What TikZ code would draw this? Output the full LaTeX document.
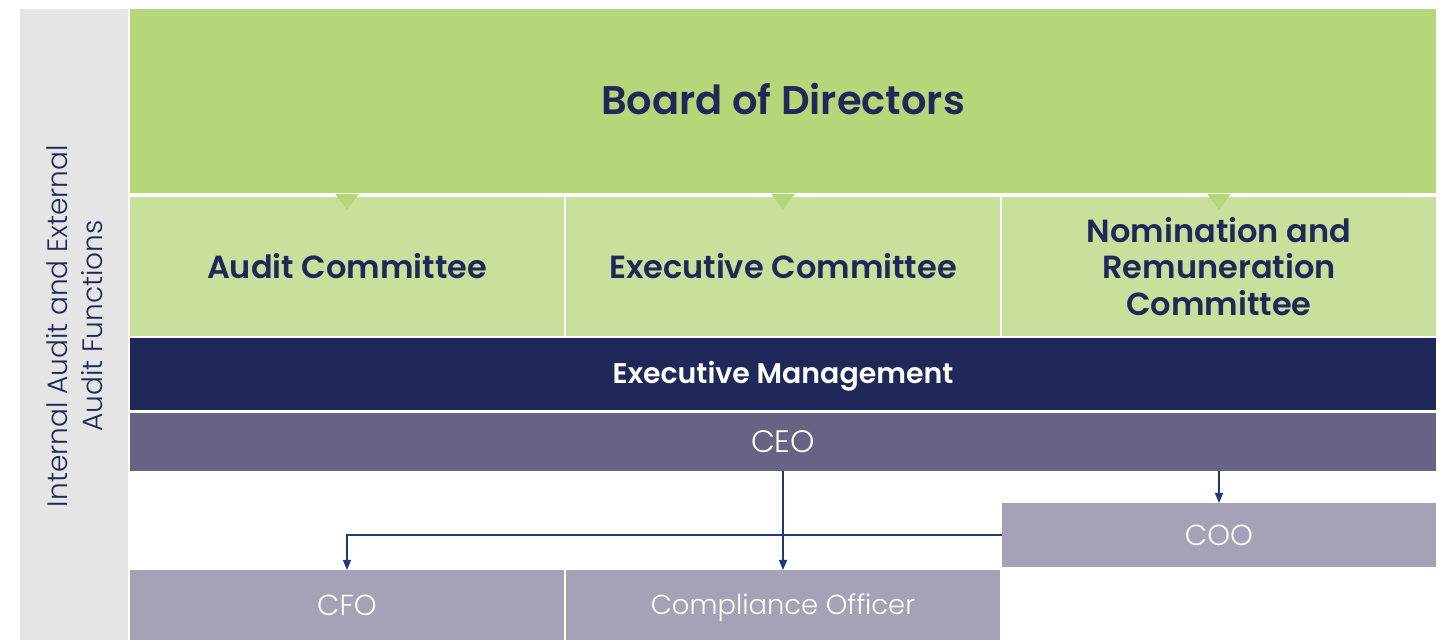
\documentclass[tikz,border=0pt]{standalone}
\usepackage{fontspec}
\setmainfont{Poppins}[BoldFont={* SemiBold}]
\newfontfamily\lightfont{Poppins Light}
\definecolor{boardgreen}{HTML}{B5D779}
\definecolor{commgreen}{HTML}{C9E09D}
\definecolor{navyblue}{HTML}{1F2858}
\definecolor{ceopurple}{HTML}{676384}
\definecolor{officerlilac}{HTML}{A5A2B7}
\definecolor{sidegrey}{HTML}{E5E5E5}
\definecolor{arrowblue}{HTML}{1F3A78}
\usetikzlibrary{arrows.meta,positioning,calc}

\begin{document}
\begin{tikzpicture}[x=0.5pt,y=-0.5pt,
    box/.style={inner sep=0pt, outer sep=0pt, minimum width=217pt},
    capsline/.style={text height=#1, text depth=0pt},
    committee/.style={box, align=center, fill=commgreen, text=navyblue, font=\fontsize{16}{18.3}\selectfont\bfseries, minimum height=69.5pt},
    officer/.style={box, capsline=10.2pt, fill=officerlilac, text=white, font=\lightfont\fontsize{14.5}{17}\selectfont, minimum height=35pt},
    report/.style={-{Triangle[length=5pt,width=4pt]}, arrowblue, line width=0.6pt}]
      \useasboundingbox (0,0) rectangle (1448,640);
      % Audit functions strip
      \node[box, fill=sidegrey, minimum width=54pt, minimum height=315.5pt] (audit-side) at (74,324.5) {};
      \node[rotate=90, align=center, text=navyblue, font=\lightfont\fontsize{14}{17.5}\selectfont] (audit-text) at (75,326) {Internal Audit and External\\Audit Functions};
      % Board
      \node[box, capsline=14pt, fill=boardgreen, text=navyblue, minimum width=653pt, minimum height=92pt, font=\fontsize{20}{24}\selectfont\bfseries] (board) at (783,101) {Board of Directors};
      % Committees
      \node[committee] (audit) at (347,266.5) {Audit Committee};
      \node[committee] (executive) at (783,266.5) {Executive Committee};
      \node[committee] (nomination) at (1219,266.5) {Nomination and\\Remuneration\\Committee};
      \foreach \c in {audit,executive,nomination}
        \fill[boardgreen] ($(\c.north)+(-12,-3)$) -- ($(\c.north)+(12,-3)$) -- ($(\c.north)+(0,13)$) -- cycle;
      % Management
      \node[box, capsline=10pt, fill=navyblue, text=white, minimum width=653pt, minimum height=36pt, font=\fontsize{14.2}{17}\selectfont\bfseries] (management) at (783,374) {Executive Management};
      \node[box, capsline=10.9pt, fill=ceopurple, text=white, minimum width=653pt, minimum height=29pt, font=\lightfont\fontsize{15.5}{18}\selectfont] (ceo) at (783,442) {CEO};
      % Officers
      \node[officer, minimum height=32pt] (coo) at (1219,535) {COO};
      \node[officer] (cfo) at (347,605) {CFO};
      \node[officer, capsline=9.6pt, font=\lightfont\fontsize{13.7}{16}\selectfont] (compliance) at (783,605) {Compliance Officer};
      % Reporting lines
      \draw[report] (ceo.south) -- (compliance.north);
      \draw[report] (coo.north |- ceo.south) -- (coo.north);
      \draw[report] (coo.west) -| (cfo.north);
\end{tikzpicture}
\end{document}
